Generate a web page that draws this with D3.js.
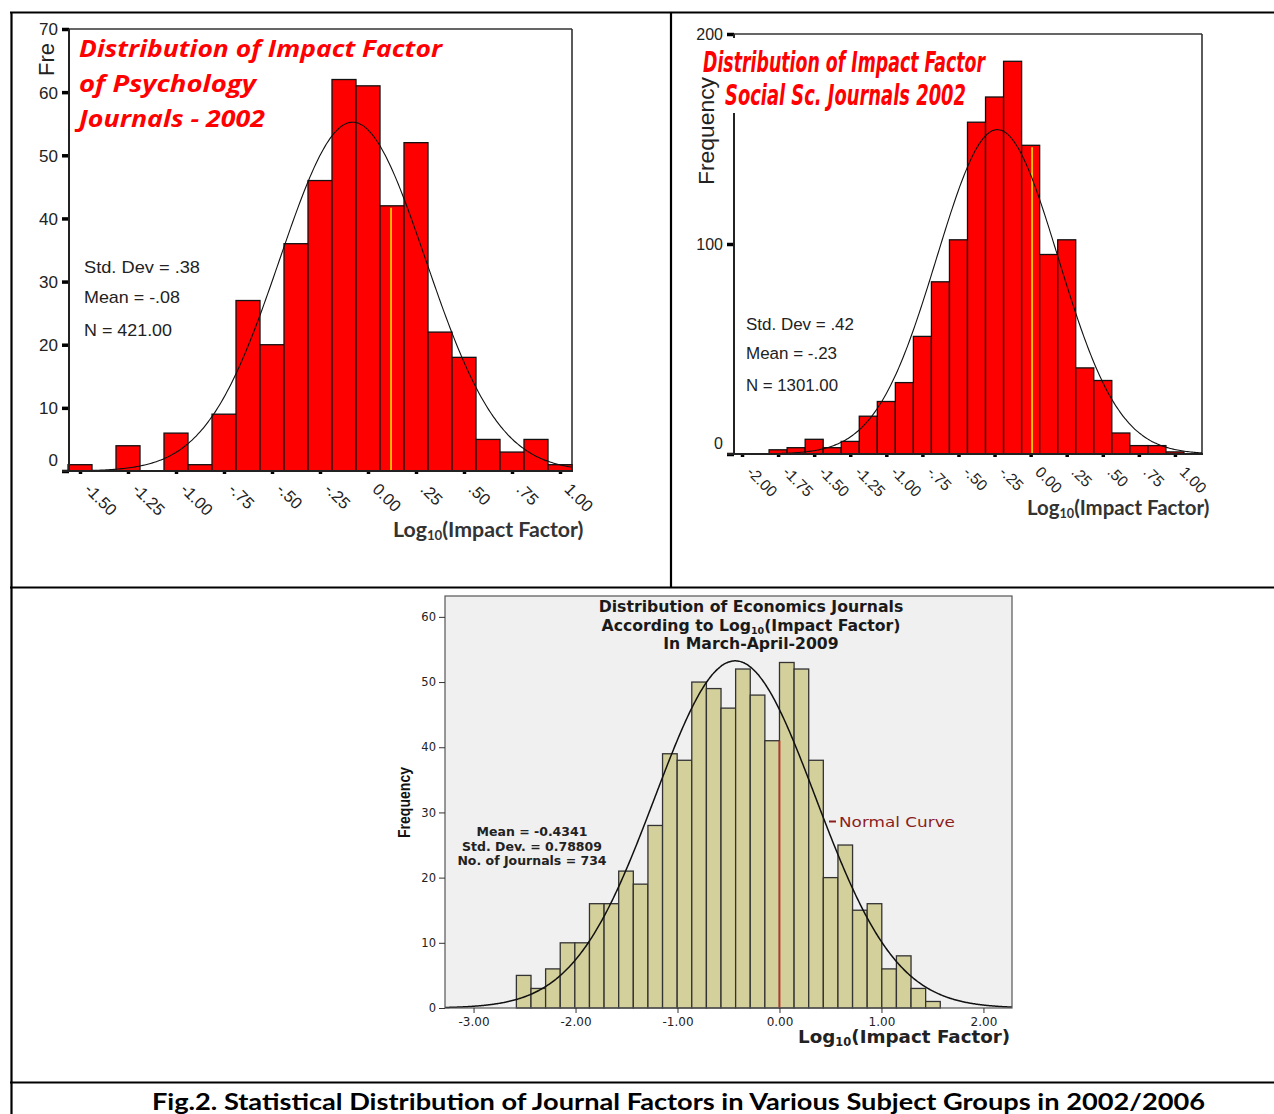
<!DOCTYPE html>
<html><head><meta charset="utf-8">
<script src="https://cdn.jsdelivr.net/npm/d3@7"></script>
<style>body{margin:0;background:#fff}svg{display:block}</style>
</head><body><svg id="c" width="1274" height="1114"></svg>
<script>
// ================= DATA =================
// Panel 1: Psychology journals 2002 (bin centres, width .125)
const psyBins = [-1.5,-1.375,-1.25,-1.125,-1.0,-0.875,-0.75,-0.625,-0.5,-0.375,-0.25,-0.125,0,0.125,0.25,0.375,0.5,0.625,0.75,0.875,1.0];
const psyCounts = [1,0,4,0,6,1,9,27,20,36,46,62,61,42,52,22,18,5,3,5,1];
const psyTicks = [-1.5,-1.25,-1,-0.75,-0.5,-0.25,0,0.25,0.5,0.75,1];
const psyTickLabels = ["-1.50","-1.25","-1.00","-.75","-.50","-.25","0.00",".25",".50",".75","1.00"];
const psyYTicks = [0,10,20,30,40,50,60,70];
const psyStats = ["Std. Dev = .38","Mean = -.08","N = 421.00"];
const psyMean = -0.08, psySd = 0.38, psyN = 421, psyMarker = 0.12;
const psyTitle = ["Distribution of Impact Factor","of Psychology","Journals - 2002"];

// Panel 2: Social science journals 2002 (bin centres, width .125)
const socBins = [-2.0,-1.875,-1.75,-1.625,-1.5,-1.375,-1.25,-1.125,-1.0,-0.875,-0.75,-0.625,-0.5,-0.375,-0.25,-0.125,0,0.125,0.25,0.375,0.5,0.625,0.75,0.875,1.0,1.125];
const socCounts = [0,0,2,3,7,3,6,18,25,34,56,82,102,158,170,187,147,95,102,41,35,10,4,4,1,0];
const socTicks = [-2,-1.75,-1.5,-1.25,-1,-0.75,-0.5,-0.25,0,0.25,0.5,0.75,1];
const socTickLabels = ["-2.00","-1.75","-1.50","-1.25","-1.00","-.75","-.50","-.25","0.00",".25",".50",".75","1.00"];
const socYTicks = [0,100,200];
const socStats = ["Std. Dev = .42","Mean = -.23","N = 1301.00"];
const socMean = -0.23, socSd = 0.42, socN = 1301, socMarker = 0.01;
const socTitle = ["Distribution of Impact Factor","Social Sc. Journals 2002"];

// Panel 3: Economics journals 2009
const ecoBinStart = -2.58, ecoBinWidth = 0.14333;
const ecoCounts = [5,3,6,10,10,16,16,21,19,28,39,38,50,49,46,52,48,41,53,52,38,20,25,15,16,6,8,3,1];
const ecoTicks = [-3,-2,-1,0,1,2];
const ecoTickLabels = ["-3.00","-2.00","-1.00","0.00","1.00","2.00"];
const ecoYTicks = [0,10,20,30,40,50,60];
const ecoStats = ["Mean = -0.4341","Std. Dev. = 0.78809","No. of Journals = 734"];
const ecoMean = -0.4341, ecoSd = 0.78809, ecoN = 734, ecoMarker = 0;
const ecoTitle = ["Distribution of Economics Journals","According to Log","(Impact Factor)","In March-April-2009"];
const caption = "Fig.2. Statistical Distribution of Journal Factors in Various Subject Groups in 2002/2006";

// ================= DRAW =================
const svg = d3.select('#c');
svg.append('rect').attr('width',1274).attr('height',1114).attr('fill','#fff');
const pdf = (x,m,s)=>Math.exp(-0.5*((x-m)/s)**2)/(s*Math.sqrt(2*Math.PI));

function sub(textSel, before, subTxt, after, subSize){
  textSel.append('tspan').text(before);
  textSel.append('tspan').attr('font-size',subSize).attr('dy',3).text(subTxt);
  textSel.append('tspan').attr('dy',-3).text(after);
}

function topPanel(o){
  const g = svg.append('g');
  const x = d3.scaleLinear().domain(o.xd).range(o.xr);
  const y = d3.scaleLinear().domain(o.yd).range(o.yr);
  const w = 0.125;
  const [x0,x1] = o.xr, [yb,yt] = o.yr;
  g.append('line').attr('x1',x0).attr('x2',x1).attr('y1',yt).attr('y2',yt).attr('stroke','#333').attr('stroke-width',1.6);
  g.append('line').attr('x1',x1).attr('x2',x1).attr('y1',yt).attr('y2',yb).attr('stroke','#333').attr('stroke-width',1.6);
  g.selectAll('rect.bar').data(o.bins.map((b,i)=>({b,c:o.counts[i]})).filter(d=>d.c>0))
    .join('rect').attr('class','bar')
    .attr('x',d=>x(d.b-w/2)).attr('width',d=>x(d.b+w/2)-x(d.b-w/2))
    .attr('y',d=>y(d.c)).attr('height',d=>y(0)-y(d.c))
    .attr('fill','#ff0000').attr('stroke','#111').attr('stroke-width',1.3);
  const mi = o.bins.findIndex(b=>Math.abs(b-o.marker)<=w/2);
  g.append('line').attr('x1',x(o.marker)).attr('x2',x(o.marker))
    .attr('y1',y(o.counts[mi])+2).attr('y2',y(0)).attr('stroke','#ffe000').attr('stroke-width',1.6);
  const cp = g.append('clipPath').attr('id',o.id+'clip');
  cp.append('rect').attr('x',x0).attr('y',yt).attr('width',x1-x0).attr('height',yb-yt);
  const pts = d3.range(o.xd[0],o.xd[1]+0.001,0.01).map(v=>[v,o.n*w*pdf(v,o.mean,o.sd)]);
  g.append('path').attr('clip-path',`url(#${o.id}clip)`)
    .attr('d',d3.line().x(d=>x(d[0])).y(d=>y(d[1])).curve(d3.curveBasis)(pts))
    .attr('fill','none').attr('stroke','#111').attr('stroke-width',1.1);
  const ya = g.append('g').attr('transform',`translate(${x0+1},0)`)
    .call(d3.axisLeft(y).tickValues(o.yticks).tickSize(7).tickPadding(4).tickFormat(d3.format('d')));
  ya.select('.domain').remove();
  ya.selectAll('line').attr('stroke','#000').attr('stroke-width',3.5);
  ya.selectAll('text').attr('font-family','Liberation Sans, Arial, sans-serif').attr('font-size',o.yfs).attr('fill','#222')
    .attr('dy',d=>d===0?(o.zeroDy):'0.35em');
  g.append('line').attr('x1',x0+1).attr('x2',x0+1).attr('y1',yt).attr('y2',yb).attr('stroke','#222').attr('stroke-width',2);
  const xa = g.append('g').attr('transform',`translate(0,${yb})`)
    .call(d3.axisBottom(x).tickValues(o.ticks).tickSize(3).tickFormat((d,i)=>o.tickLabels[i]));
  xa.select('.domain').remove();
  xa.selectAll('line').attr('stroke','#000').attr('stroke-width',3.5);
  xa.selectAll('text').attr('font-family','Liberation Sans, Arial, sans-serif').attr('font-size',o.xfs).attr('fill','#222')
    .attr('text-anchor','start').attr('x',10).attr('y',0).attr('dy','0.35em')
    .attr('transform','translate(0,8) rotate(45)');
  g.append('line').attr('x1',x0-6).attr('x2',x1+1).attr('y1',yb).attr('y2',yb).attr('stroke','#222').attr('stroke-width',2);
  o.stats.forEach((s,i)=>{
    g.append('text').attr('x',o.statX).attr('y',o.statY[i]).attr('font-family','Liberation Sans, Arial, sans-serif')
      .attr('font-size',o.sfs).attr('fill','#222').attr('textLength',o.statLen[i]).attr('lengthAdjust','spacingAndGlyphs').text(s);
  });
  const xt = g.append('text').attr('x',o.xtX).attr('y',o.xtY).attr('font-family','Lato, sans-serif').attr('font-weight',700)
    .attr('font-size',o.xtfs).attr('fill','#333');
  sub(xt,'Log','10','(Impact Factor)',o.xtfs*0.62);
  return {g,x,y};
}

// ---- Panel 1 ----
const p1 = topPanel({id:'p1',xd:[-1.5625,1.0625],xr:[68,572],yd:[0,70],yr:[471,29],
  bins:psyBins,counts:psyCounts,ticks:psyTicks,tickLabels:psyTickLabels,yticks:psyYTicks,
  mean:psyMean,sd:psySd,n:psyN,marker:psyMarker,yfs:17,xfs:16.5,zeroDy:'-0.35em',
  stats:psyStats,statX:84,statY:[273,303,336],statLen:[116,96,88],sfs:17,
  xtX:393,xtY:537,xtfs:21.3});
p1.g.append('text').attr('transform','translate(54,76) rotate(-90)').attr('font-family','Liberation Sans, Arial, sans-serif')
  .attr('font-size',22).attr('fill','#222').text('Fre');
psyTitle.forEach((t,i)=>{
  p1.g.append('text').attr('x',79).attr('y',[57,92,127][i]).attr('font-family','Open Sans, sans-serif')
    .attr('font-style','italic').attr('font-weight',700).attr('font-size',24).attr('fill','#ff0000')
    .attr('textLength',[363,177,186][i]).attr('lengthAdjust','spacingAndGlyphs').text(t);
});

// ---- Panel 2 ----
const p2 = topPanel({id:'p2',xd:[-2.0625,1.1875],xr:[733,1202],yd:[0,200],yr:[454,34],
  bins:socBins,counts:socCounts,ticks:socTicks,tickLabels:socTickLabels,yticks:socYTicks,
  mean:socMean,sd:socSd,n:socN,marker:socMarker,yfs:16,xfs:15.5,zeroDy:'-0.35em',
  stats:socStats,statX:746,statY:[330,359,391],statLen:[108,91,92],sfs:16,
  xtX:1027,xtY:515,xtfs:20.4});
p2.g.append('rect').attr('x',728).attr('y',38).attr('width',10).attr('height',75).attr('fill','#fff');
p2.g.append('text').attr('transform','translate(714,185) rotate(-90)').attr('font-family','Liberation Sans, Arial, sans-serif')
  .attr('font-size',22).attr('fill','#222').attr('textLength',108).attr('lengthAdjust','spacingAndGlyphs').text('Frequency');
socTitle.forEach((t,i)=>{
  p2.g.append('text').attr('x',[703,725][i]).attr('y',[72,105][i]).attr('font-family','Liberation Sans Narrow, DejaVu Sans Condensed, sans-serif')
    .attr('font-style','italic').attr('font-weight',700).attr('font-size',28).attr('fill','#ff0000')
    .attr('textLength',[282,241][i]).attr('lengthAdjust','spacingAndGlyphs').text(t);
});

// ---- Panel 3 ----
(function(){
  const g = svg.append('g');
  const x = d3.scaleLinear().domain([-3.28,2.28]).range([445,1012]);
  const y = d3.scaleLinear().domain([0,63.2]).range([1008,596]);
  g.append('rect').attr('x',445).attr('y',596).attr('width',567).attr('height',412).attr('fill','#f0f0f0');
  g.selectAll('rect.bar').data(ecoCounts).join('rect').attr('class','bar')
    .attr('x',(d,i)=>x(ecoBinStart+i*ecoBinWidth)).attr('width',(d,i)=>x(ecoBinStart+(i+1)*ecoBinWidth)-x(ecoBinStart+i*ecoBinWidth))
    .attr('y',d=>y(d)).attr('height',d=>y(0)-y(d))
    .attr('fill','#d4d09c').attr('stroke','#333').attr('stroke-width',1.3);
  const mi = Math.round((ecoMarker-ecoBinStart)/ecoBinWidth)-1;
  g.append('line').attr('x1',x(ecoMarker)).attr('x2',x(ecoMarker)).attr('y1',y(ecoCounts[mi])).attr('y2',y(0))
    .attr('stroke','#e8201a').attr('stroke-width',1.6);
  const pts = d3.range(-3.28,2.281,0.01).map(v=>[v,ecoN*ecoBinWidth*pdf(v,ecoMean,ecoSd)]);
  g.append('path').attr('d',d3.line().x(d=>x(d[0])).y(d=>y(d[1])).curve(d3.curveBasis)(pts))
    .attr('fill','none').attr('stroke','#111').attr('stroke-width',1.5);
  g.append('rect').attr('x',445).attr('y',596).attr('width',567).attr('height',412).attr('fill','none').attr('stroke','#555').attr('stroke-width',1.2);
  const ya = g.append('g').attr('transform','translate(445,0)')
    .call(d3.axisLeft(y).tickValues(ecoYTicks).tickSize(6).tickPadding(3).tickFormat(d3.format('d')));
  ya.select('.domain').remove();
  ya.selectAll('line').attr('stroke','#333');
  ya.selectAll('text').attr('font-family','DejaVu Sans, sans-serif').attr('font-size',11.5).attr('fill','#222');
  const xa = g.append('g').attr('transform','translate(0,1008)')
    .call(d3.axisBottom(x).tickValues(ecoTicks).tickSize(5).tickPadding(4).tickFormat((d,i)=>ecoTickLabels[i]));
  xa.select('.domain').remove();
  xa.selectAll('line').attr('stroke','#333');
  xa.selectAll('text').attr('font-family','DejaVu Sans, sans-serif').attr('font-size',12).attr('fill','#222');
  const tf = 'DejaVu Sans, Verdana, sans-serif';
  g.append('text').attr('x',751).attr('y',612).attr('text-anchor','middle').attr('font-family',tf).attr('font-weight',700).attr('font-size',15.7).attr('fill','#1a1a1a').text(ecoTitle[0]);
  const t2 = g.append('text').attr('x',751).attr('y',631).attr('text-anchor','middle').attr('font-family',tf).attr('font-weight',700).attr('font-size',15.7).attr('fill','#1a1a1a');
  sub(t2,ecoTitle[1],'10',ecoTitle[2],9.5);
  g.append('text').attr('x',751).attr('y',649).attr('text-anchor','middle').attr('font-family',tf).attr('font-weight',700).attr('font-size',15.7).attr('fill','#1a1a1a').text(ecoTitle[3]);
  ecoStats.forEach((s,i)=>g.append('text').attr('x',532).attr('y',[836,851,865][i]).attr('text-anchor','middle')
    .attr('font-family',tf).attr('font-weight',700).attr('font-size',12.5).attr('fill','#222').text(s));
  g.append('line').attr('x1',829).attr('x2',836).attr('y1',821.5).attr('y2',821.5).attr('stroke','#8b1e1e').attr('stroke-width',2);
  g.append('text').attr('x',839).attr('y',827).attr('font-family',tf).attr('font-size',14).attr('fill','#8b1e1e')
    .attr('textLength',116).attr('lengthAdjust','spacingAndGlyphs').text('Normal Curve');
  g.append('text').attr('transform','translate(410,838) rotate(-90)').attr('font-family','Liberation Sans, Arial, sans-serif')
    .attr('font-weight',700).attr('font-size',16).attr('fill','#111').attr('textLength',71).attr('lengthAdjust','spacingAndGlyphs').text('Frequency');
  const xt = g.append('text').attr('x',798).attr('y',1043).attr('font-family',tf).attr('font-weight',700).attr('font-size',18.3).attr('fill','#222');
  sub(xt,'Log','10','(Impact Factor)',11.5);
})();

// ---- frame lines & caption ----
[[10,12.5,1274,12.5],[11.5,12,11.5,1114],[671,12,671,587],[10,587.5,1274,587.5],[10,1082.5,1274,1082.5]].forEach(l=>{
  svg.append('line').attr('x1',l[0]).attr('y1',l[1]).attr('x2',l[2]).attr('y2',l[3]).attr('stroke','#000').attr('stroke-width',2.2);
});
svg.append('text').attr('x',152).attr('y',1110).attr('font-family','Lato, sans-serif').attr('font-weight',700)
  .attr('font-size',22).attr('fill','#000').attr('textLength',1053).attr('lengthAdjust','spacingAndGlyphs').text(caption);
</script></body></html>
